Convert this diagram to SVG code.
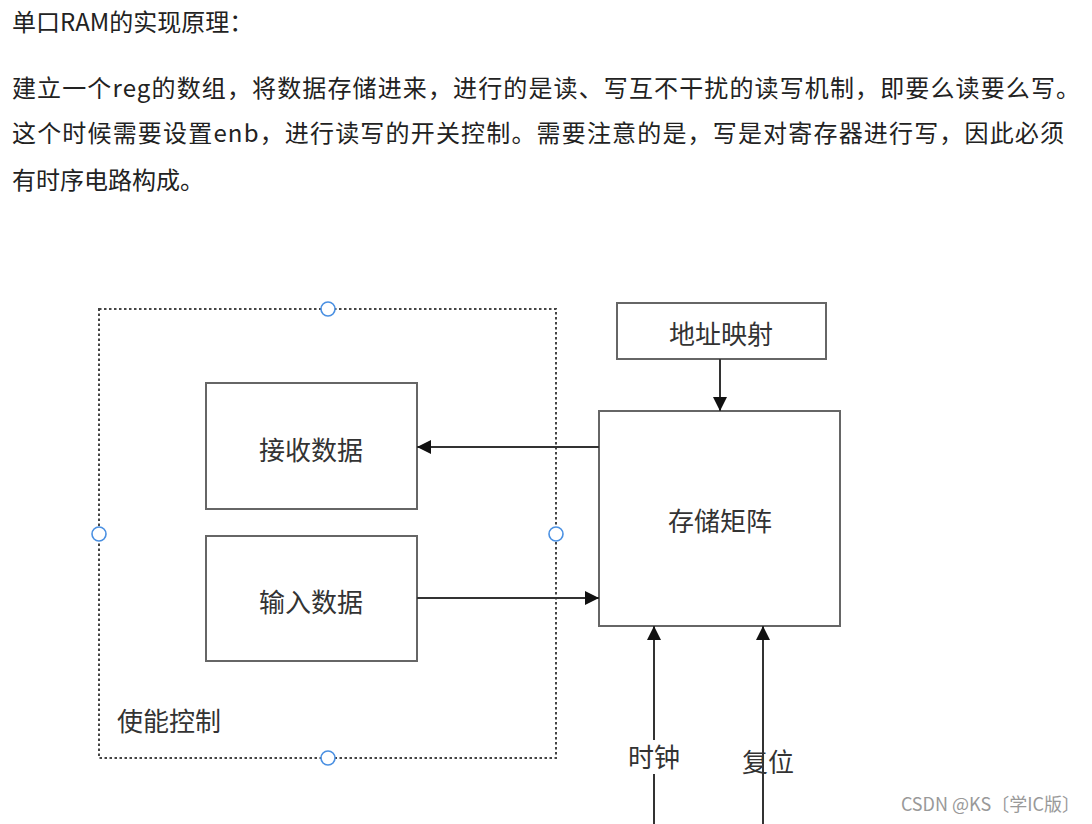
<svg xmlns="http://www.w3.org/2000/svg" width="1092" height="824" viewBox="0 0 1092 824">
<style>
.p{font-family:"Noto Sans CJK SC","Liberation Sans",sans-serif;font-size:24px;fill:#222}
.lbl{font-family:"Noto Sans CJK SC","Liberation Sans",sans-serif;font-size:26px;fill:#333;text-anchor:middle;dominant-baseline:central}
.box{fill:#fff;stroke:#666;stroke-width:2}
.conn{stroke:#333;stroke-width:2;fill:none}
.handle{fill:#fff;stroke:#4a90e2;stroke-width:1.6}
</style>
<defs>
<marker id="ah" viewBox="0 0 14 14" refX="14" refY="7" markerWidth="14" markerHeight="14" markerUnits="userSpaceOnUse" orient="auto">
<path d="M0,0 L14,7 L0,14 z" fill="#111"/>
</marker>
</defs>
<rect width="1092" height="824" fill="#fff"/>
<g id="text">
<text class="p" x="12" y="31">单口RAM的实现原理：</text>
<text class="p" x="12" y="97" textLength="1068" lengthAdjust="spacing">建立一个reg的数组，将数据存储进来，进行的是读、写互不干扰的读写机制，即要么读要么写。</text>
<text class="p" x="12" y="142" textLength="1052" lengthAdjust="spacing">这个时候需要设置enb，进行读写的开关控制。需要注意的是，写是对寄存器进行写，因此必须</text>
<text class="p" x="12" y="189" textLength="192" lengthAdjust="spacing">有时序电路构成。</text>
</g>
<g id="enable-group">
<rect x="99" y="309" width="457" height="449" fill="none" stroke="#444" stroke-width="2" stroke-dasharray="2.5,2.5"/>
<text class="lbl" x="169" y="719">使能控制</text>
<circle class="handle" cx="328" cy="309" r="7"/>
<circle class="handle" cx="99" cy="534" r="7"/>
<circle class="handle" cx="556" cy="534" r="7"/>
<circle class="handle" cx="328" cy="758" r="7"/>
</g>
<g id="receive">
<rect class="box" x="206" y="383" width="211" height="126"/>
<text class="lbl" x="311" y="448">接收数据</text>
</g>
<g id="input">
<rect class="box" x="206" y="536" width="211" height="125"/>
<text class="lbl" x="311" y="600">输入数据</text>
</g>
<g id="address">
<rect class="box" x="617" y="303" width="209" height="56"/>
<text class="lbl" x="721" y="332">地址映射</text>
</g>
<g id="matrix">
<rect class="box" x="599" y="411" width="241" height="215"/>
<text class="lbl" x="720" y="519">存储矩阵</text>
</g>
<g id="connectors">
<line class="conn" x1="599" y1="447" x2="417" y2="447" marker-end="url(#ah)"/>
<line class="conn" x1="417" y1="598" x2="599" y2="598" marker-end="url(#ah)"/>
<line class="conn" x1="720" y1="359" x2="720" y2="411" marker-end="url(#ah)"/>
<line class="conn" x1="654" y1="740" x2="654" y2="626" marker-end="url(#ah)" stroke="#555"/>
<line class="conn" x1="654" y1="774" x2="654" y2="824" stroke="#555"/>
<line class="conn" x1="763" y1="824" x2="763" y2="626" marker-end="url(#ah)" stroke="#555"/>
</g>
<g id="labels">
<text class="lbl" x="654" y="755">时钟</text>
<text class="lbl" x="768" y="760">复位</text>
</g>
<text x="1080" y="811" font-family="Noto Sans CJK SC, Liberation Sans, sans-serif" font-size="18" fill="#999" text-anchor="end">CSDN @KS〔学IC版〕</text>
</svg>
